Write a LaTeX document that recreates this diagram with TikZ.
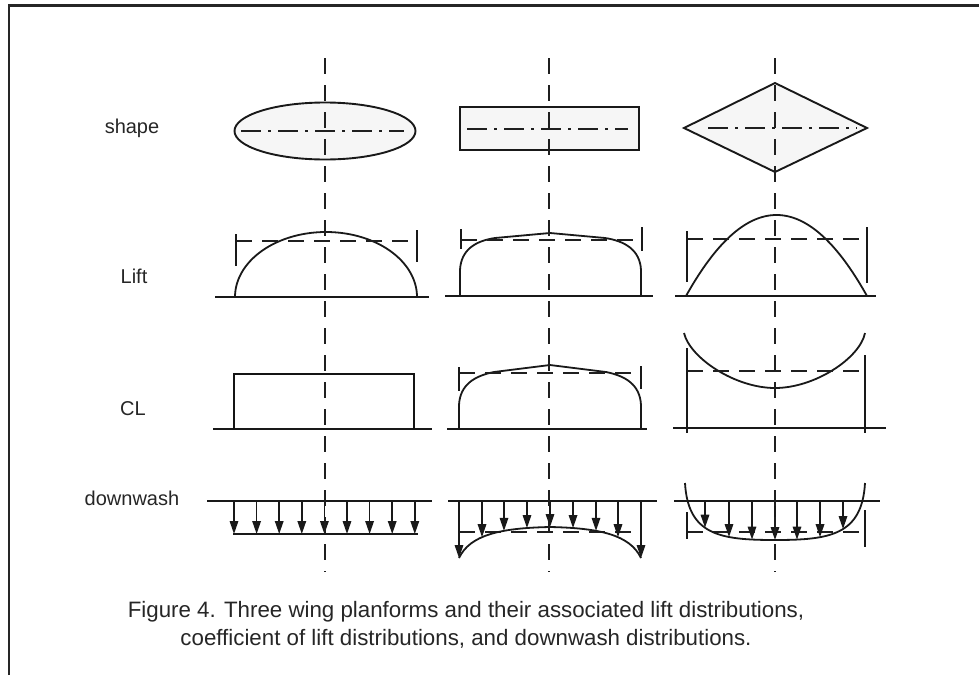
\documentclass[tikz,border=0pt]{standalone}
\usepackage{fontspec}
\setmainfont{Liberation Sans}
\usetikzlibrary{arrows.meta,intersections}
\begin{document}
\begin{tikzpicture}[x=1pt,y=-1pt,
  line/.style={line width=1.8pt, black!90},
  heavyline/.style={line width=2.8pt, black!92},
  centerline/.style={line width=1.6pt, black!88, dash pattern=on 16pt off 11pt},
  refline/.style={line width=1.6pt, black!88, dash pattern=on 16pt off 10pt},
  axisline/.style={line width=1.6pt, black!88, dash pattern=on 20pt off 7pt on 3pt off 7pt},
  planform/.style={line width=1.9pt, black!90, fill=gray!7},
  dwarrow/.style={line width=1.6pt, black!90, -{Triangle[length=13pt,width=8.5pt]}},
  rowlabel/.style={font=\fontsize{20}{24}\selectfont, text=black!85, anchor=base, inner sep=0pt},
  captionline/.style={font=\fontsize{22.3}{26}\selectfont, text=black!85, anchor=base, inner sep=0pt},
  ]
\useasboundingbox (0,0) rectangle (979,675);
\fill[white] (0,0) rectangle (979,675);
% frame
\draw[line width=2.5pt, black!85] (9,675) -- (9,5.5) -- (979,5.5);

% ---------- row labels ----------
\node[rowlabel] (lshape) at (132,133) {shape};
\node[rowlabel] (llift) at (134,283) {Lift};
\node[rowlabel] (lcl) at (133,415) {CL};
\node[rowlabel] (ldown) at (132,505) {downwash};

% ---------- column 1 : elliptical ----------
\draw[planform] (325,131) ellipse [x radius=90.5, y radius=28.5];
\draw[axisline] (241,131) -- (404,131);
% lift
\draw[line] (215,297) -- (429,297);
\draw[line] plot[domain=180:360, samples=90, smooth] ({326+91*cos(\x)},{297+65*sin(\x)});
\draw[refline] (236,241) -- (417,241);
\draw[line] (236,234) -- (236,266);
\draw[line] (417,230) -- (417,262);
% CL
\draw[line] (213,429) -- (432,429);
\draw[heavyline] (234,429) -- (234,374) -- (414,374) -- (414,429);
% downwash
\draw[line] (207,501) -- (432,501);
\draw[line width=2.3pt, black!90] (233,534) -- (418,534);
\foreach \i in {0,...,8} {
  \draw[dwarrow] ({234+22.6*\i},501) -- ({234+22.6*\i},534);
}
\draw[centerline] (325,58) -- (325,572);

% ---------- column 2 : rectangular ----------
\draw[planform] (460,107) rectangle (639,150);
\draw[axisline] (467,129) -- (628,129);
% lift
\draw[line] (445,296) -- (653,296);
\draw[line] (460,296) -- (460,270) .. controls (461,250) and (475,241) .. (495,238)
  -- (550,233) -- (605,238) .. controls (625,241) and (640,250) .. (641,270) -- (641,296);
\draw[refline] (461,240) -- (641,240);
\draw[line] (461,229) -- (461,249);
\draw[line] (642,227) -- (642,251);
% CL
\draw[line] (447,429) -- (647,429);
\draw[line] (459,429) -- (459,405) .. controls (460,385) and (474,376) .. (494,372)
  -- (550,365) -- (606,372) .. controls (626,376) and (640,385) .. (641,405) -- (641,429);
\draw[refline] (459,373) -- (641,373);
\draw[line] (459,367) -- (459,391);
\draw[line] (641,366) -- (641,389);
% downwash
\draw[line] (448,501) -- (657,501);
\draw[refline] (459,532) -- (641,532);
\draw[line, name path=dwB] (459,558) .. controls (470,535) and (500,528) .. (550,527)
  .. controls (600,528) and (630,535) .. (641,558);
\draw[dwarrow] (459,501) -- (459,558);
\draw[dwarrow] (641,501) -- (641,558);
\draw[dwarrow] (550,501) -- (550,527);
\foreach \x in {482,504,527,573,596,618} {
  \path[name path=vB] (\x,495) -- (\x,600);
  \draw[dwarrow, name intersections={of=vB and dwB, by=tipB}] (\x,501) -- (tipB);
}
\draw[centerline] (549,58) -- (549,572);

% ---------- column 3 : diamond ----------
\draw[planform] (775,83) -- (867,128) -- (775,172) -- (684,128) -- cycle;
\draw[axisline] (708,128) -- (857,128);
% lift
\draw[line] (675,296) -- (876,296);
\draw[line] plot[domain=686:867, samples=90, smooth] (\x,{296-81*(1-((\x-776.5)/90.5)^2)});
\draw[refline] (687,239) -- (867,239);
\draw[line] (687,231) -- (687,282);
\draw[line] (867,227) -- (867,283);
% CL
\draw[line] (673,428) -- (886,428);
\draw[line] (684,333) .. controls (690,358) and (735,388) .. (775,388)
  .. controls (815,388) and (860,358) .. (865,333);
\draw[refline] (687,371) -- (865,371);
\draw[line] (687,348) -- (687,433);
\draw[line] (865,355) -- (865,433);
% downwash
\draw[line] (674,501) -- (880,501);
\draw[refline] (687,532) -- (865,532);
\draw[line] (687,512) -- (687,539);
\draw[line] (865,510) -- (865,547);
\draw[line, name path=dwC] (685,483) .. controls (688,535) and (720,540) .. (775,540)
  .. controls (830,540) and (862,535) .. (865,483);
\draw[dwarrow] (775,501) -- (775,540);
\foreach \x in {705,729,752,797,820,843} {
  \path[name path=vC] (\x,495) -- (\x,600);
  \draw[dwarrow, name intersections={of=vC and dwC, by=tipC}] (\x,501) -- (tipC);
}
\draw[centerline] (775,58) -- (775,572);

% ---------- caption ----------
\node[captionline] (cap1) at (466,617) {Figure 4. Three wing planforms and their associated lift distributions,};
\node[captionline] (cap2) at (466,645) {coefficient of lift distributions, and downwash distributions.};
\end{tikzpicture}
\end{document}
